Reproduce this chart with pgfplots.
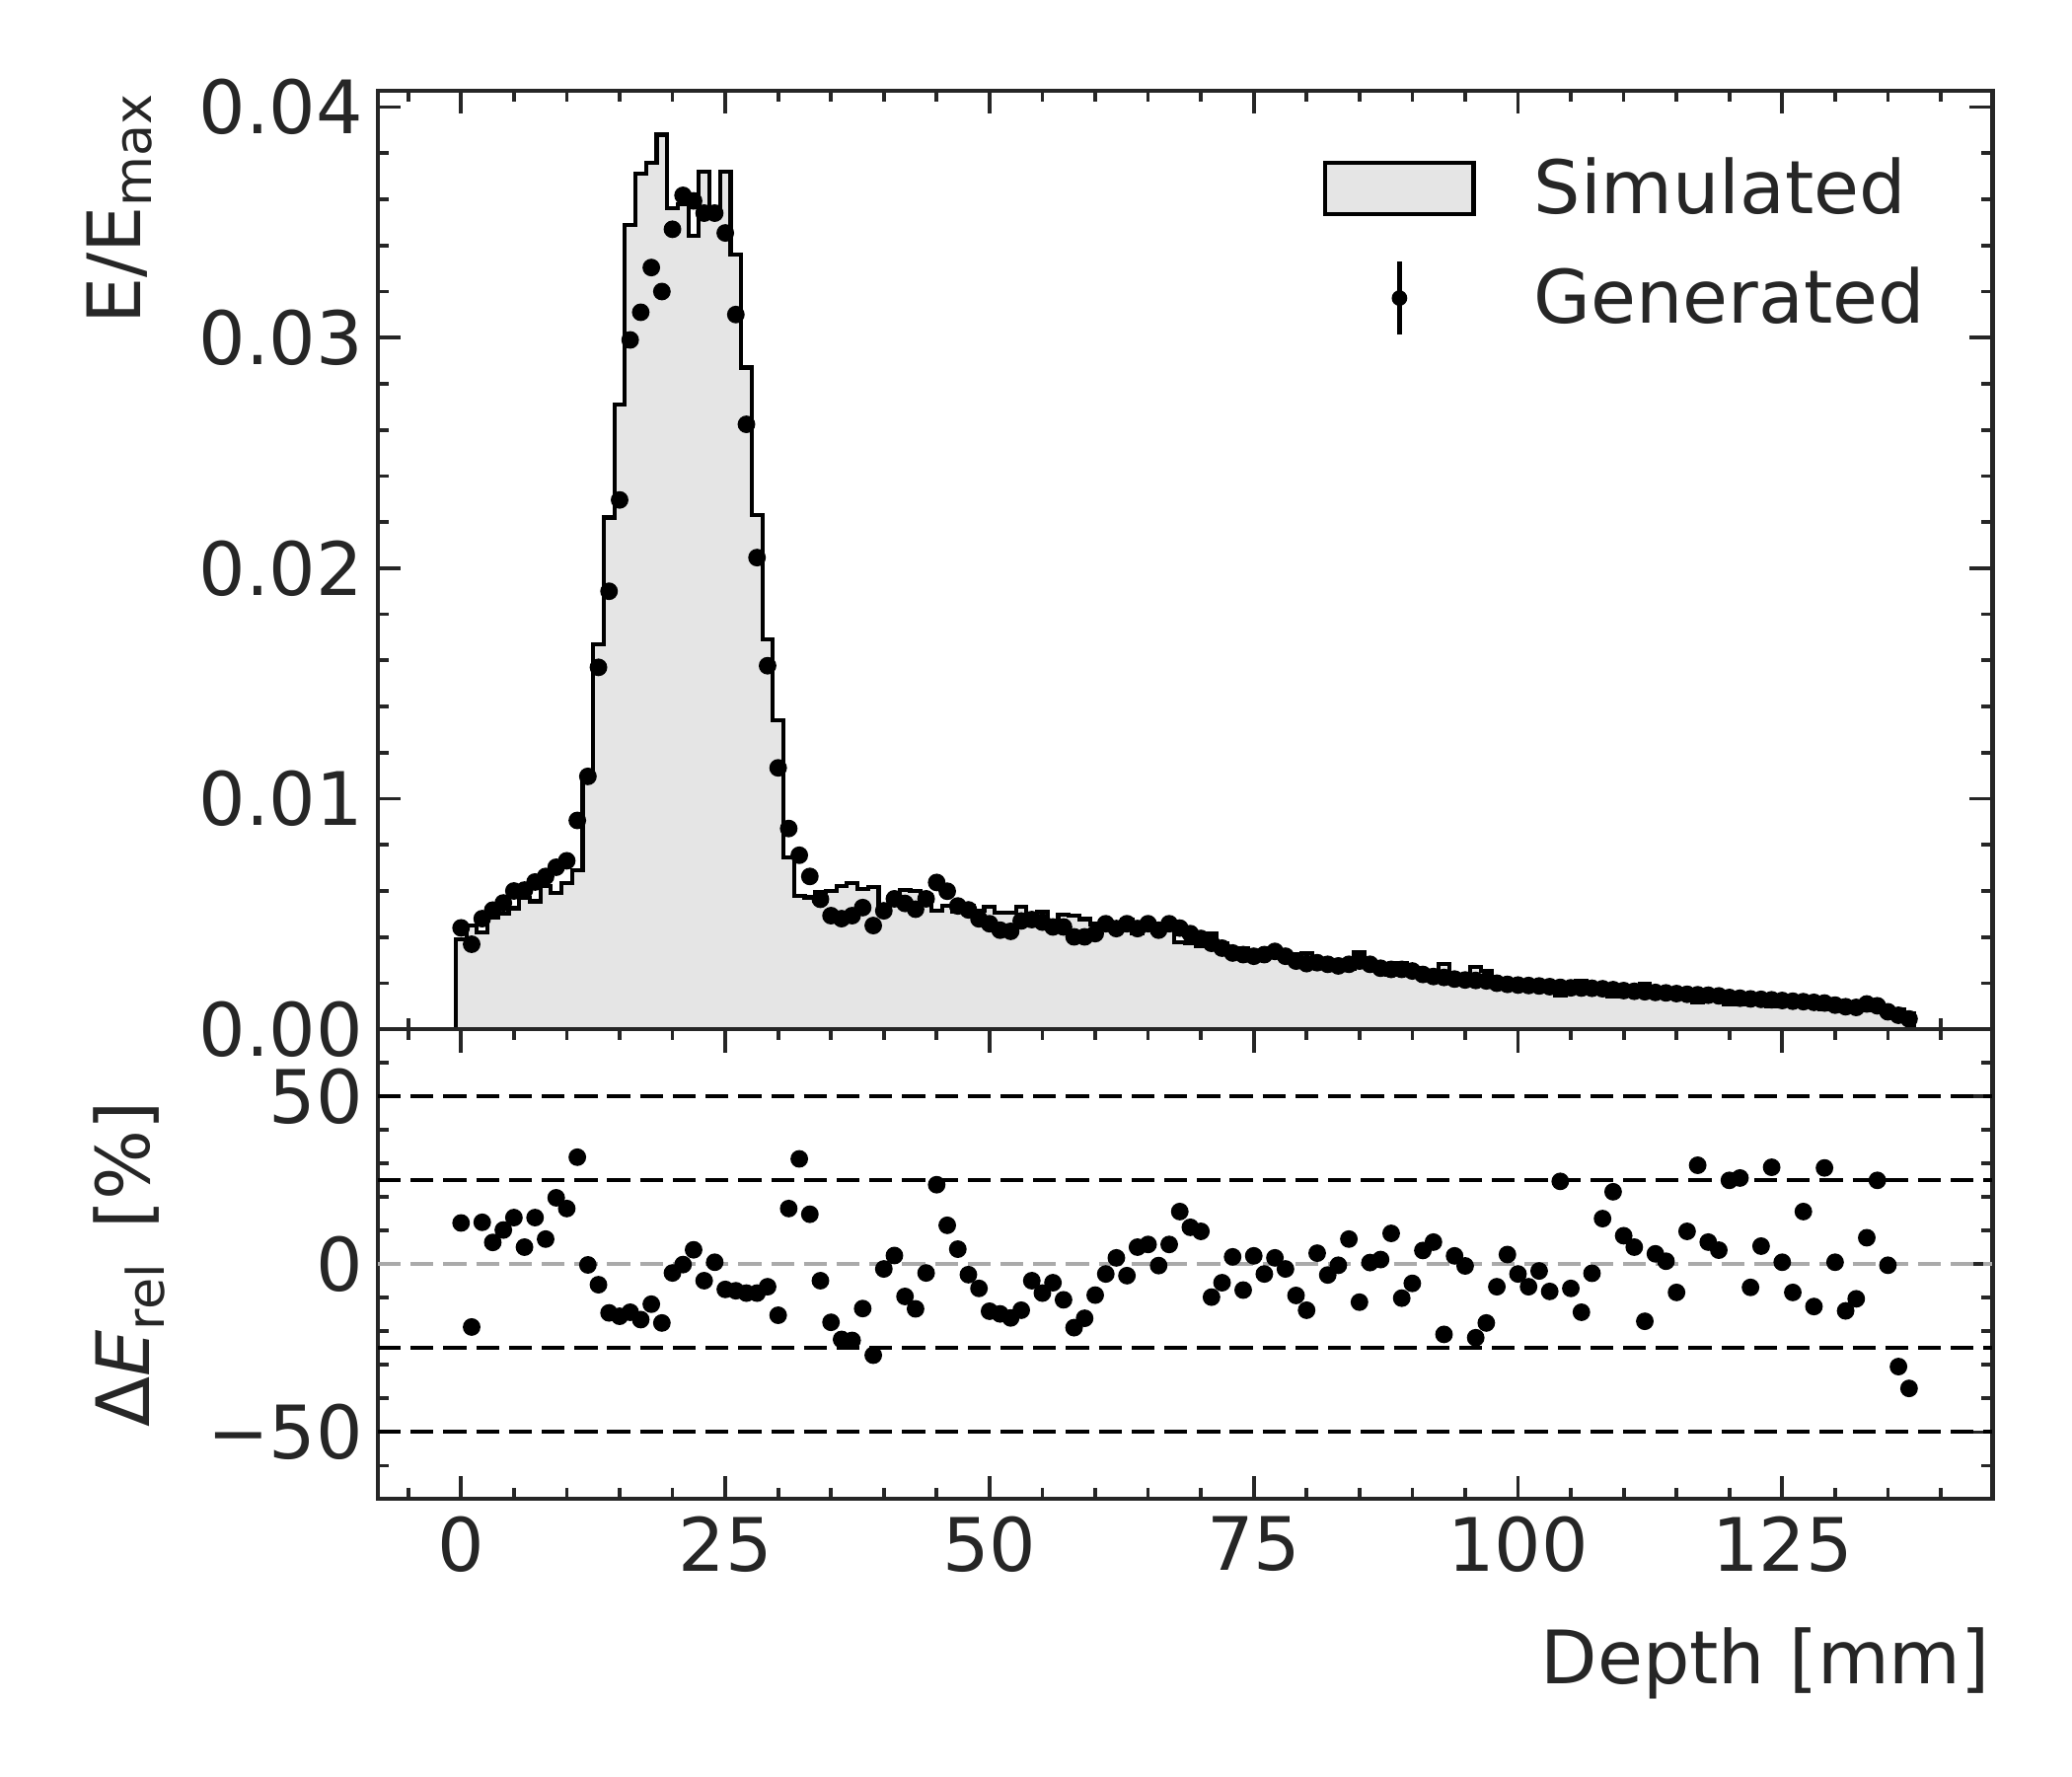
\documentclass[border=0pt]{standalone}
\usepackage{fontspec}
\setmainfont{DejaVu Sans}
\usepackage{pgfplots}
\pgfplotsset{compat=1.18}
\usepackage{pgfplotstable}
\definecolor{dg}{HTML}{262626}
\definecolor{hg}{HTML}{E5E5E5}
\definecolor{zg}{HTML}{AAAAAA}
\newcommand{\fs}{\fontsize{18}{21.6}\selectfont}

% generated values (units of 0.001) and relative difference [%]
\pgfplotstableread{
x gen rel
0 4.40 12.3
1 3.69 -18.7
2 4.80 12.5
3 5.17 6.5
4 5.48 10.2
5 6.00 13.9
6 6.04 5.1
7 6.39 13.9
8 6.63 7.5
9 7.03 19.8
10 7.31 16.6
11 9.06 31.9
12 10.97 -0.2
13 15.70 -6.1
14 19.00 -14.5
15 22.96 -15.5
16 29.90 -14.3
17 31.10 -16.5
18 33.04 -11.9
19 32.00 -17.5
20 34.70 -2.6
21 36.17 -0.1
22 35.93 4.3
23 35.40 -4.9
24 35.40 0.6
25 34.54 -7.5
26 31.00 -7.9
27 26.24 -8.6
28 20.46 -8.6
29 15.77 -6.7
30 11.34 -15.2
31 8.71 16.6
32 7.55 31.4
33 6.63 14.9
34 5.64 -4.9
35 4.93 -17.3
36 4.80 -22.4
37 4.93 -22.7
38 5.28 -13.2
39 4.50 -27.1
40 5.14 -1.4
41 5.66 2.6
42 5.46 -9.6
43 5.21 -13.3
44 5.66 -2.6
45 6.37 23.7
46 5.99 11.6
47 5.35 4.5
48 5.18 -3.1
49 4.79 -7.2
50 4.58 -14.0
51 4.30 -14.8
52 4.25 -16.0
53 4.70 -13.7
54 4.76 -4.9
55 4.65 -8.6
56 4.44 -5.5
57 4.44 -10.6
58 4.01 -18.9
59 4.01 -16.1
60 4.15 -9.2
61 4.58 -2.9
62 4.37 1.9
63 4.58 -3.4
64 4.37 5.1
65 4.58 5.9
66 4.30 -0.4
67 4.58 5.9
68 4.39 15.7
69 4.15 11.0
70 3.94 9.8
71 3.73 -9.8
72 3.52 -5.5
73 3.31 2.2
74 3.24 -7.7
75 3.17 2.5
76 3.24 -2.9
77 3.38 1.9
78 3.17 -1.4
79 2.96 -9.3
80 2.85 -13.7
81 2.89 3.3
82 2.82 -3.2
83 2.75 -0.3
84 2.82 7.5
85 2.96 -11.3
86 2.82 0.5
87 2.65 1.4
88 2.60 9.2
89 2.60 -10.1
90 2.53 -5.7
91 2.38 4.1
92 2.29 6.6
93 2.25 -20.9
94 2.18 2.5
95 2.14 -0.5
96 2.12 -21.9
97 2.10 -17.5
98 2.00 -6.7
99 1.95 2.9
100 1.92 -2.9
101 1.90 -6.7
102 1.88 -2.0
103 1.85 -8.1
104 1.82 24.7
105 1.80 -7.2
106 1.79 -14.3
107 1.78 -2.7
108 1.76 13.6
109 1.72 21.6
110 1.68 8.5
111 1.65 5.1
112 1.63 -17.0
113 1.60 3.1
114 1.58 0.9
115 1.55 -8.4
116 1.52 9.8
117 1.50 29.5
118 1.48 6.6
119 1.45 4.2
120 1.38 25.0
121 1.35 25.7
122 1.32 -6.9
123 1.30 5.4
124 1.28 28.9
125 1.25 0.6
126 1.22 -8.4
127 1.20 15.7
128 1.17 -12.6
129 1.14 28.7
130 1.05 0.6
131 0.98 -13.9
132 0.95 -10.3
133 1.10 7.9
134 1.02 25.0
135 0.76 -0.3
136 0.61 -30.5
137 0.45 -37.0
}\gendata

% simulated histogram (bin centre, units of 0.001); last row closes the final bin
\pgfplotstableread{
x sim
0 3.90
1 4.50
2 4.20
3 4.85
4 5.00
5 5.25
6 5.70
7 5.55
8 6.20
9 5.90
10 6.35
11 6.90
12 11.00
13 16.70
14 22.20
15 27.10
16 34.90
17 37.10
18 37.60
19 38.80
20 35.60
21 35.80
22 34.40
23 37.20
24 35.40
25 37.20
26 33.60
27 28.70
28 22.30
29 16.90
30 13.40
31 7.45
32 5.77
33 5.72
34 5.96
35 6.00
36 6.20
37 6.35
38 6.10
39 6.17
40 5.21
41 5.52
42 6.04
43 6.01
44 5.81
45 5.15
46 5.37
47 5.12
48 5.35
49 5.16
50 5.33
51 5.05
52 5.06
53 5.33
54 5.01
55 5.09
56 4.70
57 4.97
58 4.94
59 4.78
60 4.57
61 4.72
62 4.29
63 4.74
64 4.16
65 4.32
66 4.32
67 4.32
68 3.79
69 3.74
70 3.59
71 4.14
72 3.72
73 3.24
74 3.51
75 3.09
76 3.34
77 3.32
78 3.22
79 3.26
80 3.30
81 2.80
82 2.91
83 2.76
84 2.62
85 3.34
86 2.81
87 2.61
88 2.38
89 2.89
90 2.68
91 2.29
92 2.15
93 2.84
94 2.13
95 2.15
96 2.71
97 2.55
98 2.14
99 1.90
100 1.98
101 2.04
102 1.92
103 2.01
104 1.46
105 1.94
106 2.09
107 1.83
108 1.55
109 1.41
110 1.55
111 1.57
112 1.96
113 1.55
114 1.57
115 1.69
116 1.38
117 1.16
118 1.39
119 1.39
120 1.10
121 1.07
122 1.42
123 1.23
124 0.99
125 1.24
126 1.33
127 1.04
128 1.34
129 0.89
130 1.04
131 1.14
132 1.06
133 1.02
134 0.82
135 0.76
136 0.88
137 0.71
138 0.71
}\histdata

\pgfplotsset{
  mystyle/.style={
    scale only axis, width=394.2pt,
    xmin=-7.87, xmax=144.9,
    axis line style={line width=1pt, draw=dg},
    tick style={line width=0.9pt, draw=dg},
    major tick length=5.6pt, minor tick length=2.7pt,
    tick align=inside,
    xtick pos=both, ytick pos=both,
    xtick={0,25,50,75,100,125},
    minor xtick={-5,0,...,140},
    tick label style={font=\fs, text=dg, inner sep=0pt},
    xticklabel style={yshift=-4pt},
    yticklabel style={xshift=-3.4pt},
    label style={font=\fs, text=dg},
  }
}

\begin{document}
\begin{tikzpicture}
\useasboundingbox (-92.26pt,-67.6pt) rectangle (413.6pt,366.0pt);

\begin{axis}[mystyle,
  at={(0pt,114.7pt)}, anchor=south west, height=229.1pt,
  ymin=0, ymax=40.7,
  ytick={0,10,20,30,40},
  yticklabels={0.00,0.01,0.02,0.03,0.04},
  minor ytick={0,2,...,40},
  xticklabels={,,,,,},
  ylabel={E/E\textsubscript{max}},
  ylabel style={at={([xshift=-57.9pt]axis description cs:0,1)}, anchor=base east, inner sep=0pt},
  legend cell align=left,
  legend style={at={(1,1)}, anchor=north east, xshift=-16.5pt, yshift=-16.2pt,
    draw=none, fill=none, inner sep=0pt, outer sep=0pt,
    row sep=9.7pt, column sep=14.2pt, font=\fs, text=dg,
    nodes={inner sep=0pt, text=dg}},
]
\addplot[const plot, fill=hg, draw=black, line width=1pt,
  legend image code/.code={\draw[fill=hg, draw=black, line width=1pt] (0pt,-6.3pt) rectangle (36.2pt,6.3pt);}]
  table[x expr=\thisrow{x}-0.5, y=sim] {\histdata} \closedcycle;
\addlegendentry{Simulated}
\addplot[only marks, mark=*, mark size=1.95pt, black,
  legend image code/.code={\path[draw=none, fill=none] (0pt,-8.9pt) rectangle (36.2pt,8.9pt);
     \draw[black, line width=1.2pt] (18.1pt,-8.9pt) -- (18.1pt,8.9pt);
     \fill[black] (18.1pt,0pt) circle (1.7pt);}]
  table[x=x, y=gen] {\gendata};
\addlegendentry{Generated}
\end{axis}

\begin{axis}[mystyle,
  at={(0pt,0pt)}, anchor=south west, height=114.7pt,
  ymin=-70, ymax=70,
  ytick={-50,0,50},
  yticklabels={−50,0,50},
  minor ytick={-60,-50,...,60},
  xticklabels={0,25,50,75,100,125},
  xlabel={Depth [mm]},
  xlabel style={at={(axis description cs:1,0)}, anchor=north east, inner sep=0pt, yshift=-31.1pt, xshift=-0.4pt},
  ylabel={Δ\textit{E}\textsubscript{rel}\hspace{0.45em}[\%]},
  ylabel style={at={([xshift=-55.7pt]axis description cs:0,0.5)}, anchor=base, inner sep=0pt},
]
\addplot[black, line width=1pt, dash pattern=on 5.6pt off 2.4pt] coordinates {(-7.87,50) (144.9,50)};
\addplot[black, line width=1pt, dash pattern=on 5.6pt off 2.4pt] coordinates {(-7.87,25) (144.9,25)};
\addplot[black, line width=1pt, dash pattern=on 5.6pt off 2.4pt] coordinates {(-7.87,-25) (144.9,-25)};
\addplot[black, line width=1pt, dash pattern=on 5.6pt off 2.4pt] coordinates {(-7.87,-50) (144.9,-50)};
\addplot[zg, line width=1pt, dash pattern=on 5.6pt off 2.4pt] coordinates {(-7.87,0) (144.9,0)};
\addplot[only marks, mark=*, mark size=1.95pt, black] table[x=x, y=rel] {\gendata};
\end{axis}
\end{tikzpicture}
\end{document}
